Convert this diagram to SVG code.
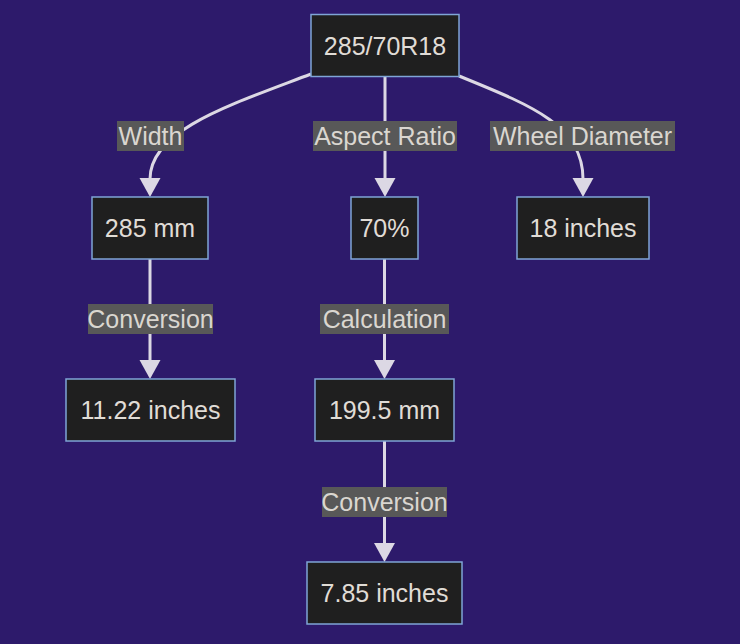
<svg xmlns="http://www.w3.org/2000/svg" width="740" height="644" viewBox="0 0 740 644">
<style>
.node rect{fill:#1f1f1f;stroke:#7fa5d6;stroke-width:1.5}
.node text{fill:#e0dcd6;font-family:"Liberation Sans",Arial,sans-serif;font-size:25px;text-anchor:middle;dominant-baseline:central}
.edge{fill:none;stroke:#dcd8e4;stroke-width:3}
.lbl rect{fill:#585858}
.lbl text{fill:#dad6d0;font-family:"Liberation Sans",Arial,sans-serif;font-size:25px;text-anchor:middle;dominant-baseline:central}
</style>
<defs>
<marker id="arr" markerUnits="userSpaceOnUse" markerWidth="22" markerHeight="22" viewBox="0 0 22 22" refX="1" refY="11" orient="auto">
<path d="M0,0.5 L19,11 L0,21.5 Z" fill="#dcd8e4"/>
</marker>
</defs>
<rect width="740" height="644" fill="#2d1a6b"/>
<g id="connectors">
<path class="edge" d="M311,74 C230,105 150,130 150,179" marker-end="url(#arr)"/>
<path class="edge" d="M385,76 L385,179" marker-end="url(#arr)"/>
<path class="edge" d="M459,76 C530,105 583,125 583,179" marker-end="url(#arr)"/>
<path class="edge" d="M150,259 L150,361" marker-end="url(#arr)"/>
<path class="edge" d="M384.5,259 L384.5,361" marker-end="url(#arr)"/>
<path class="edge" d="M384.5,441 L384.5,544" marker-end="url(#arr)"/>
<g class="lbl"><rect x="117" y="121" width="67" height="30"/><text x="150.5" y="136">Width</text></g>
<g class="lbl"><rect x="313" y="121" width="144" height="30"/><text x="385" y="136">Aspect Ratio</text></g>
<g class="lbl"><rect x="490" y="121" width="185" height="30"/><text x="582.5" y="136">Wheel Diameter</text></g>
<g class="lbl"><rect x="88" y="304" width="125" height="30"/><text x="150.5" y="319">Conversion</text></g>
<g class="lbl"><rect x="320" y="304" width="129" height="30"/><text x="384.5" y="319">Calculation</text></g>
<g class="lbl"><rect x="322" y="487" width="125" height="30"/><text x="384.5" y="502">Conversion</text></g>
</g>
<g id="n_tire" class="node"><rect x="311" y="14.5" width="148" height="62"/><text x="385" y="45.5">285/70R18</text></g>
<g id="n_width" class="node"><rect x="92" y="197" width="116" height="62"/><text x="150" y="228">285 mm</text></g>
<g id="n_ratio" class="node"><rect x="351" y="197" width="67" height="62"/><text x="384.5" y="228">70%</text></g>
<g id="n_wheel" class="node"><rect x="517" y="197" width="132" height="62"/><text x="583" y="228">18 inches</text></g>
<g id="n_width_in" class="node"><rect x="66" y="379" width="169" height="62"/><text x="150.5" y="410">11.22 inches</text></g>
<g id="n_sidewall_mm" class="node"><rect x="315" y="379" width="139" height="62"/><text x="384.5" y="410">199.5 mm</text></g>
<g id="n_sidewall_in" class="node"><rect x="307" y="562" width="155" height="62"/><text x="384.5" y="593">7.85 inches</text></g>
</svg>
